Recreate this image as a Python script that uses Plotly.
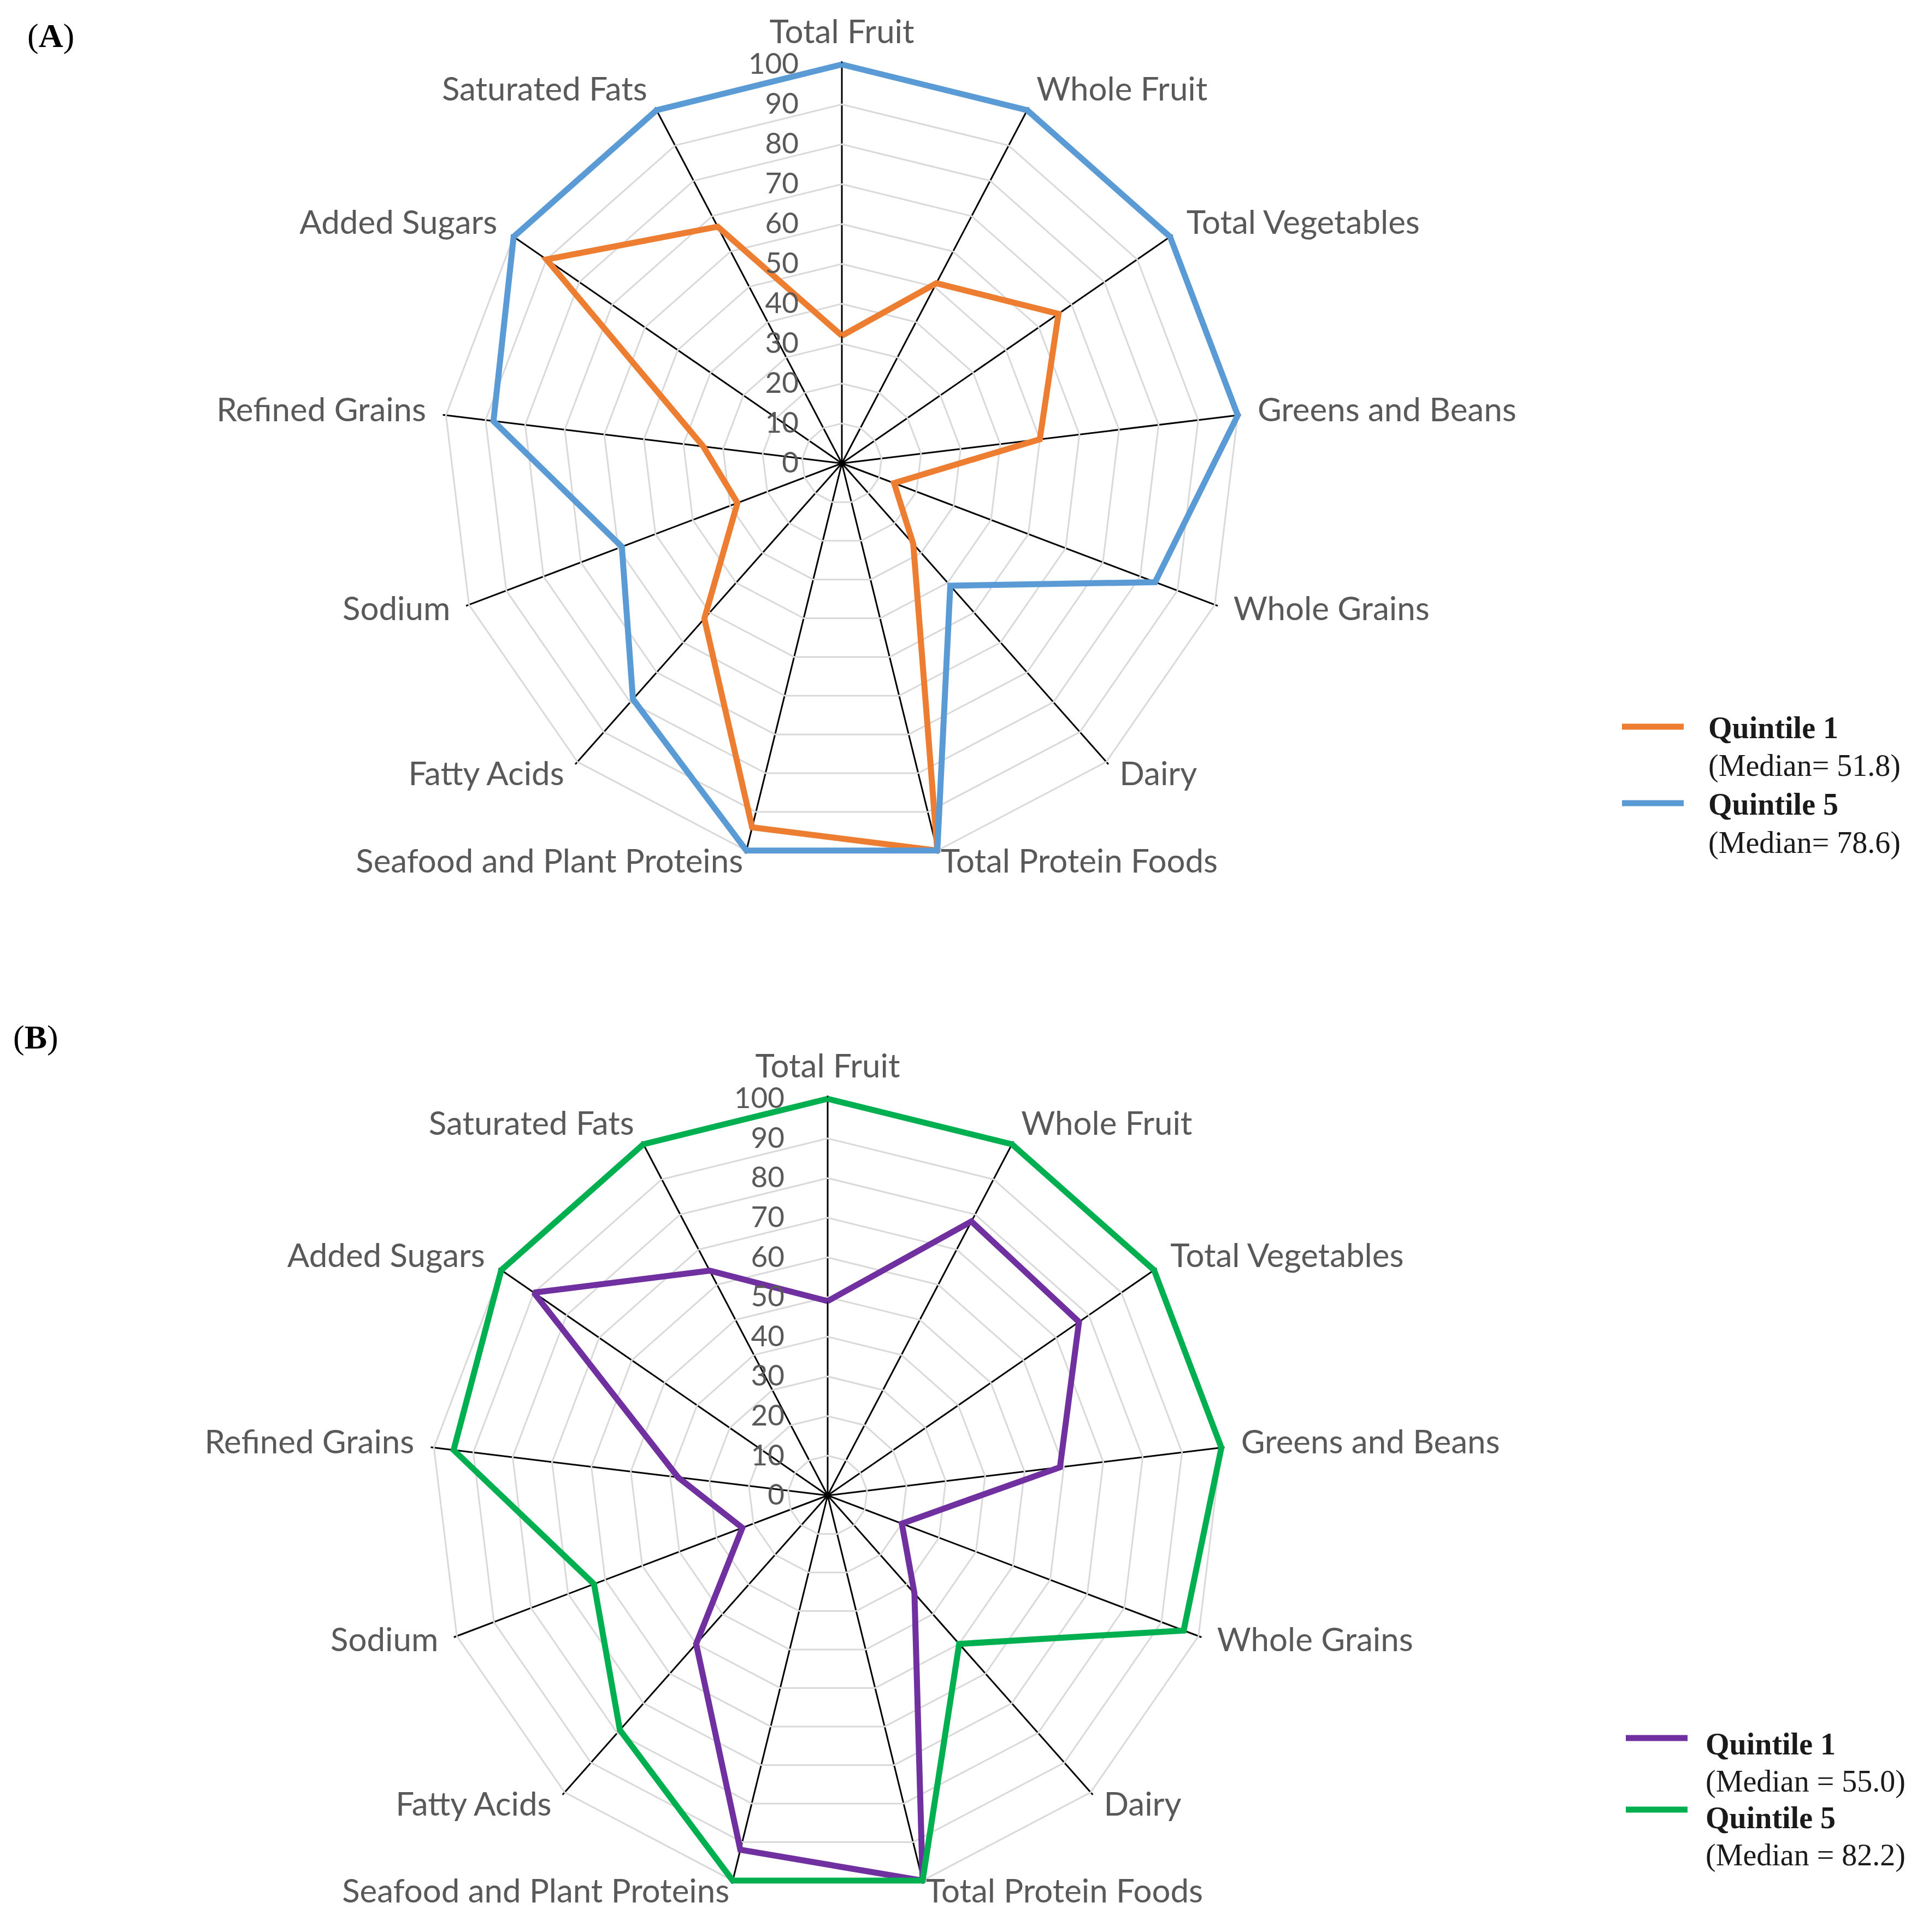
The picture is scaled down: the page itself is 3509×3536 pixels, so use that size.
import plotly.graph_objects as go

categories = ["Total Fruit", "Whole Fruit", "Total Vegetables", "Greens and Beans",
              "Whole Grains", "Dairy", "Total Protein Foods", "Seafood and Plant Proteins",
              "Fatty Acids", "Sodium", "Refined Grains", "Added Sugars", "Saturated Fats"]

a_q1 = [32, 51, 66, 50, 14, 27, 100, 94, 52, 28, 35, 90, 67]
a_q5 = [100, 100, 100, 100, 84, 41, 100, 100, 79, 59, 88, 100, 100]
b_q1 = [49, 78, 77, 59, 20, 33, 100, 92, 50, 23, 38, 90, 64]
b_q5 = [100, 100, 100, 100, 96, 50, 100, 100, 79, 63, 95, 100, 100]

legend_a = ["<b>Quintile 1</b>", "(Median= 51.8)", "<b>Quintile 5</b>", "(Median= 78.6)"]
legend_b = ["<b>Quintile 1</b>", "(Median = 55.0)", "<b>Quintile 5</b>", "(Median = 82.2)"]
radial_ticks = list(range(0, 101, 10))

C_ORANGE = "#ED7D31"
C_BLUE = "#5B9BD5"
C_PURPLE = "#7030A0"
C_GREEN = "#00B050"

W, H = 3509, 3536
RMAX = 100.8   # small headroom so lines at 100 are not clipped
RLAB = 110.0   # range of the transparent overlay polar that carries the category labels


def closed(v):
    return v + v[:1]


cats_closed = closed(categories)

fig = go.Figure()
for vals, col, sub in [(a_q1, C_ORANGE, "polar"), (a_q5, C_BLUE, "polar"),
                       (b_q1, C_PURPLE, "polar2"), (b_q5, C_GREEN, "polar2")]:
    fig.add_trace(go.Scatterpolar(r=closed(vals), theta=cats_closed, mode="lines",
                                  line=dict(color=col, width=11), subplot=sub,
                                  showlegend=False, hoverinfo="skip"))

# category labels: placed just outside the spoke ends, Excel style
n = len(categories)
lab_r, lab_pos = [], []
for i in range(n):
    ang = i * 360.0 / n
    if ang == 0:
        lab_r.append(103.3); lab_pos.append("top center")
    elif abs(ang - 180) < 20:
        lab_r.append(103.5); lab_pos.append("middle right" if ang < 180 else "middle left")
    else:
        lab_r.append(105.0); lab_pos.append("middle right" if ang < 180 else "middle left")

cat_font = dict(family="Lato, Open Sans, sans-serif", size=60, color="#595959")
tick_font = dict(family="Lato, Open Sans, sans-serif", size=53, color="#595959")

for sub in ["polar3", "polar4"]:
    fig.add_trace(go.Scatterpolar(r=lab_r, theta=categories, mode="text", text=categories,
                                  textposition=lab_pos, textfont=cat_font, subplot=sub,
                                  cliponaxis=False, showlegend=False, hoverinfo="skip"))


def dom(cx, cy, R):
    return dict(x=[(cx - R) / W, (cx + R) / W], y=[(H - cy - R) / H, (H - cy + R) / H])


def polar_layout(d):
    return dict(
        domain=d,
        gridshape="linear",
        bgcolor="white",
        angularaxis=dict(type="category", categoryarray=categories, direction="clockwise",
                         rotation=90, showgrid=True, gridcolor="#000000", gridwidth=3,
                         showline=False, ticks="", showticklabels=False),
        radialaxis=dict(range=[0, RMAX], tickvals=radial_ticks, angle=90, tickangle=90,
                        side="counterclockwise", showline=False,
                        ticks="outside", ticklen=60, tickcolor="rgba(0,0,0,0)",
                        gridcolor="#D9D9D9", gridwidth=3, tickfont=tick_font,
                        layer="above traces"),
    )


def label_layout(d):
    return dict(
        domain=d,
        gridshape="linear",
        bgcolor="rgba(0,0,0,0)",
        angularaxis=dict(type="category", categoryarray=categories, direction="clockwise",
                         rotation=90, showgrid=False, showline=False, ticks="",
                         showticklabels=False),
        radialaxis=dict(range=[0, RLAB], visible=False, showgrid=False),
    )


A_C, A_R = (1533, 840), 730
B_C, B_R = (1507, 2729), 726
fig.update_layout(
    width=W, height=H,
    margin=dict(l=0, r=0, t=0, b=0),
    paper_bgcolor="white",
    plot_bgcolor="white",
    polar=polar_layout(dom(*A_C, A_R * RMAX / 100)),
    polar2=polar_layout(dom(*B_C, B_R * RMAX / 100)),
    polar3=label_layout(dom(*A_C, A_R * RLAB / 100)),
    polar4=label_layout(dom(*B_C, B_R * RLAB / 100)),
)

serif = "Liberation Serif, Times New Roman, serif"

# panel labels
fig.add_annotation(text="(<b>A</b>)", x=40 / W, y=1 - 57 / H, xref="paper", yref="paper",
                   xanchor="left", yanchor="middle", showarrow=False,
                   font=dict(family=serif, size=62, color="#000000"))
fig.add_annotation(text="(<b>B</b>)", x=14 / W, y=1 - 1890 / H, xref="paper", yref="paper",
                   xanchor="left", yanchor="middle", showarrow=False,
                   font=dict(family=serif, size=62, color="#000000"))

# legends (custom, wide line keys)
def add_legend(texts, colors, x_line0, x_line1, line_ys, x_text, text_ys):
    for col, ly in zip(colors, line_ys):
        fig.add_shape(type="line", xref="paper", yref="paper",
                      x0=x_line0 / W, x1=x_line1 / W, y0=1 - ly / H, y1=1 - ly / H,
                      line=dict(color=col, width=11))
    for t, ty in zip(texts, text_ys):
        fig.add_annotation(text=t, x=x_text / W, y=1 - ty / H, xref="paper", yref="paper",
                           xanchor="left", yanchor="middle", showarrow=False,
                           font=dict(family=serif, size=56, color="#1a1a1a"))

add_legend(legend_a, [C_ORANGE, C_BLUE], 2961, 3074, [1322, 1462], 3117,
           [1324, 1394, 1464, 1534])
add_legend(legend_b, [C_PURPLE, C_GREEN], 2968, 3081, [3173, 3304], 3112,
           [3184, 3252, 3319, 3387])

fig.write_html("out.html")
